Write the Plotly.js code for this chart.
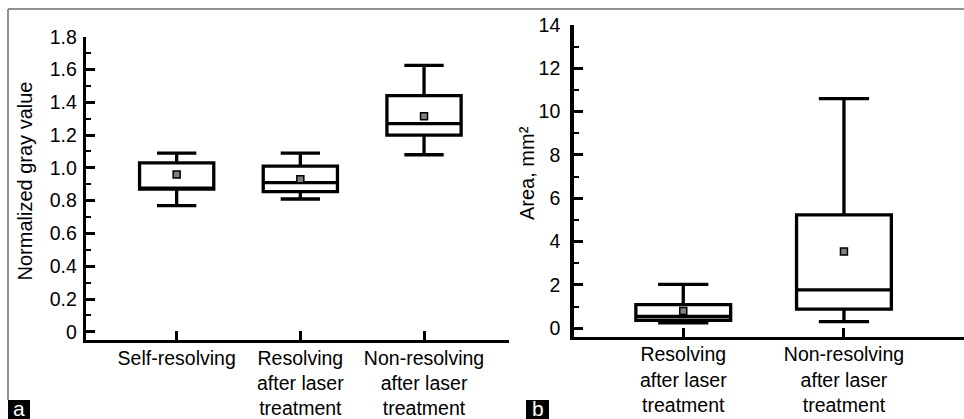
<!DOCTYPE html>
<html>
<head>
<meta charset="utf-8">
<script src="https://cdn.plot.ly/plotly-3.0.1.min.js"></script>
<style>
  html, body { margin: 0; padding: 0; background: #fff; }
  #chart { width: 964px; height: 419px; }
</style>
</head>
<body>
<div id="chart"></div>
<script>
// ---- Panel a: normalized gray value ----
const catsA = ['Self-resolving', 'Resolving<br>after laser<br>treatment', 'Non-resolving<br>after laser<br>treatment'];
const lowerA = [0.77, 0.81, 1.08];
const q1A    = [0.87, 0.855, 1.20];
const medA   = [0.87, 0.91, 1.27];
const q3A    = [1.03, 1.01, 1.44];
const upperA = [1.09, 1.09, 1.625];
const meanA  = [0.96, 0.93, 1.315];
const yTickValsA = [0, 0.2, 0.4, 0.6, 0.8, 1.0, 1.2, 1.4, 1.6, 1.8];
const yTickTextA = ['0', '0.2', '0.4', '0.6', '0.8', '1.0', '1.2', '1.4', '1.6', '1.8'];
const yTitleA = 'Normalized gray value';

// ---- Panel b: area ----
const catsB = ['Resolving<br>after laser<br>treatment', 'Non-resolving<br>after laser<br>treatment'];
const lowerB = [0.25, 0.31];
const q1B    = [0.37, 0.88];
const medB   = [0.55, 1.77];
const q3B    = [1.09, 5.23];
const upperB = [2.03, 10.6];
const meanB  = [0.80, 3.54];
const yTickValsB = [0, 2, 4, 6, 8, 10, 12, 14];
const yTickTextB = ['0', '2', '4', '6', '8', '10', '12', '14'];
const yTitleB = 'Area, mm²';

const FONT = 'Liberation Sans, Arial, Helvetica, sans-serif';
const W = 964, H = 419;
const px = v => v / W;
const py = v => 1 - v / H;

const boxStyle = {
  type: 'box',
  line: { color: '#000', width: 3.3 },
  fillcolor: '#fff',
  whiskerwidth: 0.53,
  boxpoints: false,
  hoverinfo: 'skip'
};
const meanStyle = {
  type: 'scatter',
  mode: 'markers',
  marker: { symbol: 'square', size: 7, color: '#808080', line: { color: '#000', width: 1.5 } },
  hoverinfo: 'skip'
};

const data = [
  Object.assign({}, boxStyle, {
    x: catsA, q1: q1A, median: medA, q3: q3A, lowerfence: lowerA, upperfence: upperA,
    width: 0.6, xaxis: 'x', yaxis: 'y'
  }),
  Object.assign({}, meanStyle, { x: catsA, y: meanA, xaxis: 'x', yaxis: 'y' }),
  Object.assign({}, boxStyle, {
    x: catsB, q1: q1B, median: medB, q3: q3B, lowerfence: lowerB, upperfence: upperB,
    width: 0.59, xaxis: 'x2', yaxis: 'y2'
  }),
  Object.assign({}, meanStyle, { x: catsB, y: meanB, xaxis: 'x2', yaxis: 'y2' })
];

const axisCommon = {
  showline: true, linewidth: 3.3, linecolor: '#000',
  ticks: 'inside', ticklen: 9, tickwidth: 3, tickcolor: '#000',
  showgrid: false, zeroline: false, fixedrange: true,
  tickfont: { family: FONT, size: 19.5, color: '#000' }
};
const titleFont = { family: FONT, size: 20, color: '#000' };

const layout = {
  width: W, height: H,
  margin: { l: 0, r: 0, t: 0, b: 0 },
  paper_bgcolor: '#fff', plot_bgcolor: '#fff',
  showlegend: false,
  font: { family: FONT, color: '#000' },
  xaxis: Object.assign({}, axisCommon, {
    domain: [px(86), px(509)], range: [-0.733, 2.687], type: 'category',
    anchor: 'y', ticklabelstandoff: -2
  }),
  yaxis: Object.assign({}, axisCommon, {
    domain: [py(340), py(36.7)], range: [-0.05, 1.8],
    anchor: 'x', tickmode: 'array', tickvals: yTickValsA, ticktext: yTickTextA,
    ticklabelstandoff: 2,
    minor: { tick0: 0, dtick: 0.1, ticks: 'inside', ticklen: 5, tickwidth: 2, tickcolor: '#000', showgrid: false }
  }),
  xaxis2: Object.assign({}, axisCommon, {
    domain: [px(573.5), 1], range: [-0.683, 1.747], type: 'category',
    anchor: 'y2', ticklabelstandoff: -2
  }),
  yaxis2: Object.assign({}, axisCommon, {
    domain: [py(336.7), py(25)], range: [-0.39, 14],
    anchor: 'x2', tickmode: 'array', tickvals: yTickValsB, ticktext: yTickTextB,
    ticklabelstandoff: 6,
    minor: { tick0: 0, dtick: 1, ticks: 'inside', ticklen: 5, tickwidth: 2, tickcolor: '#000', showgrid: false }
  }),
  shapes: [
    { type: 'line', xref: 'paper', yref: 'paper', x0: px(8), x1: 1, y0: py(9), y1: py(9), line: { color: '#6e6e6e', width: 1.5 } },
    { type: 'line', xref: 'paper', yref: 'paper', x0: px(8), x1: px(8), y0: py(9), y1: py(400), line: { color: '#6e6e6e', width: 1.5 } },
    { type: 'rect', xref: 'paper', yref: 'paper', x0: px(8), x1: px(30), y0: py(400), y1: 0, fillcolor: '#000', line: { width: 0 } },
    { type: 'rect', xref: 'paper', yref: 'paper', x0: px(526), x1: px(549), y0: py(400), y1: 0, fillcolor: '#000', line: { width: 0 } }
  ],
  annotations: [
    { text: yTitleA, xref: 'paper', yref: 'paper', x: px(25), y: py(181.5), xanchor: 'center', yanchor: 'middle', textangle: -90, showarrow: false, font: titleFont },
    { text: yTitleB, xref: 'paper', yref: 'paper', x: px(527), y: py(173), xanchor: 'center', yanchor: 'middle', textangle: -90, showarrow: false, font: titleFont },
    { text: 'a', xref: 'paper', yref: 'paper', x: px(19), y: py(408), xanchor: 'center', yanchor: 'middle', showarrow: false, font: { family: FONT, size: 21, color: '#fff' } },
    { text: 'b', xref: 'paper', yref: 'paper', x: px(537.5), y: py(408), xanchor: 'center', yanchor: 'middle', showarrow: false, font: { family: FONT, size: 21, color: '#fff' } }
  ]
};

Plotly.newPlot('chart', data, layout, { staticPlot: true, displayModeBar: false });
</script>
</body>
</html>
